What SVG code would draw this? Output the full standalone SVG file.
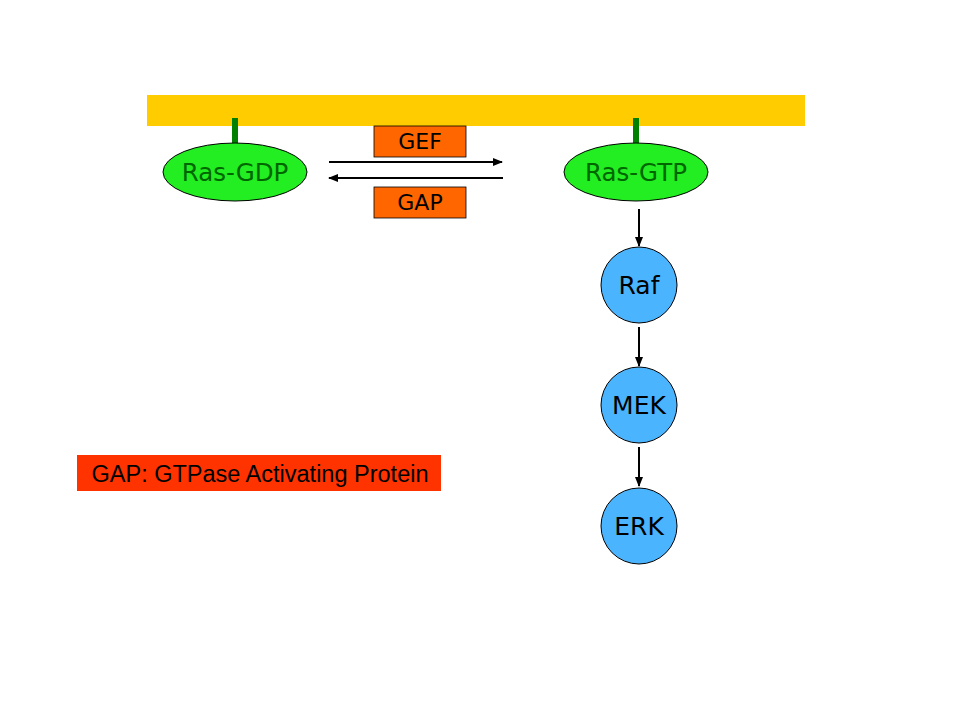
<svg xmlns="http://www.w3.org/2000/svg" width="960" height="720" viewBox="0 0 960 720">
<defs>
<marker id="ah" markerWidth="10" markerHeight="8" refX="9" refY="4" orient="auto" markerUnits="userSpaceOnUse">
<path d="M0,0 L10,4 L0,8 Z" fill="#000"/>
</marker>
<style>
.ras{fill:#22EE22;stroke:#000;stroke-width:1}
.rast{font-family:"DejaVu Sans",sans-serif;font-size:24.5px;fill:#006600;text-anchor:middle}
.stem{fill:#008000}
.enz{fill:#FF6600;stroke:#000;stroke-width:0.8}
.enzt{font-family:"DejaVu Sans",sans-serif;font-size:22px;fill:#000;text-anchor:middle}
.kin{fill:#4BB4FF;stroke:#000;stroke-width:1}
.kint{font-family:"DejaVu Sans",sans-serif;font-size:25px;fill:#000;text-anchor:middle}
.con{stroke:#000;stroke-width:2;fill:none;marker-end:url(#ah)}
</style>
</defs>
<rect width="960" height="720" fill="#fff"/>
<rect id="membrane" x="147" y="95" width="658" height="31" fill="#FFCC00"/>
<g id="ras-gdp">
<rect class="stem" x="232" y="118" width="6" height="26"/>
<ellipse class="ras" cx="235" cy="172" rx="72" ry="29"/>
<text class="rast" x="235" y="181">Ras-GDP</text>
</g>
<g id="ras-gtp">
<rect class="stem" x="633" y="118" width="6" height="26"/>
<ellipse class="ras" cx="636" cy="172" rx="72" ry="29"/>
<text class="rast" x="636" y="181">Ras-GTP</text>
</g>
<g id="gef">
<rect class="enz" x="374" y="126" width="92" height="31"/>
<text class="enzt" x="420" y="149">GEF</text>
</g>
<g id="gap">
<rect class="enz" x="374" y="187" width="92" height="31"/>
<text class="enzt" x="420" y="210">GAP</text>
</g>
<g id="raf">
<circle class="kin" cx="639" cy="285" r="38"/>
<text class="kint" x="639" y="294">Raf</text>
</g>
<g id="mek">
<circle class="kin" cx="639" cy="405" r="38"/>
<text class="kint" x="639" y="414">MEK</text>
</g>
<g id="erk">
<circle class="kin" cx="639" cy="526" r="38"/>
<text class="kint" x="639" y="535">ERK</text>
</g>
<g id="legend">
<rect x="77" y="455" width="364" height="36" fill="#FF3300"/>
<text x="260" y="482" font-family="Liberation Sans, Arial, sans-serif" font-size="23.5" fill="#000" text-anchor="middle">GAP: GTPase Activating Protein</text>
</g>
<g id="connectors">
<line class="con" x1="329" y1="162" x2="502" y2="162"/>
<line class="con" x1="503" y1="178" x2="329" y2="178"/>
<line class="con" x1="639" y1="209" x2="639" y2="246"/>
<line class="con" x1="639" y1="327" x2="639" y2="366"/>
<line class="con" x1="639" y1="447" x2="639" y2="486"/>
</g>
</svg>
